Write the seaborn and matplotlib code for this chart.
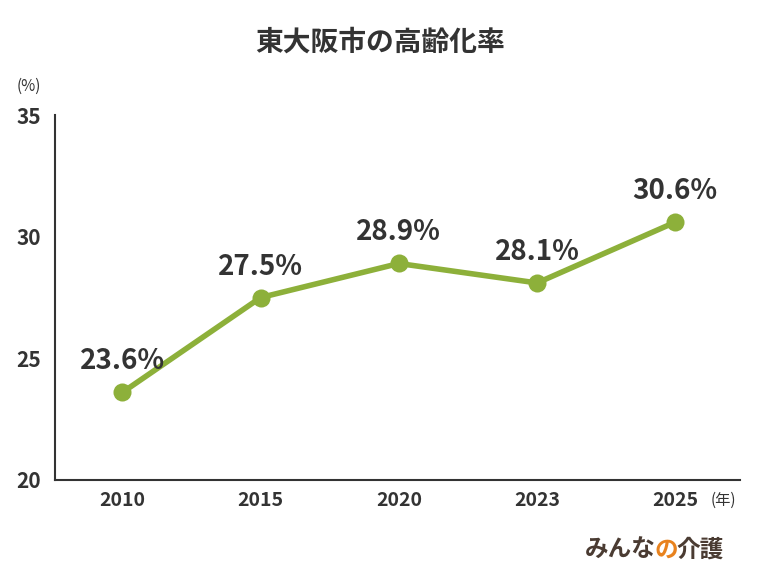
import matplotlib
matplotlib.use("Agg")
import matplotlib.pyplot as plt
import seaborn as sns
import pandas as pd

years = ["2010", "2015", "2020", "2023", "2025"]
rates = [23.6, 27.5, 28.9, 28.1, 30.6]
yticks = [20, 25, 30, 35]

sns.set_style("white")
plt.rcParams['font.family'] = ['Noto Sans CJK JP', 'DejaVu Sans']

df = pd.DataFrame({"year": years, "rate": rates})
fig = plt.figure(figsize=(7.6, 5.7), dpi=100)
ax = fig.add_axes([0.072, 0.158, 0.902, 0.64])
green = "#8DB03A"
sns.lineplot(data=df, x="year", y="rate", ax=ax, color=green, lw=4,
             marker="o", markersize=13, markeredgewidth=0, sort=False)
for i, v in enumerate(rates):
    ax.text(i, v + 0.7, f"{v}%", ha="center", va="bottom", fontsize=20,
            fontweight="bold", color="#333333")
ax.set_ylim(20, 35)
ax.set_xlim(-0.49, 4.47)
ax.set_yticks(yticks)
ax.tick_params(axis="x", length=0, labelsize=14, colors="#333333", pad=8)
ax.tick_params(axis="y", length=0, labelsize=15, colors="#333333", pad=10)
for l in ax.get_xticklabels() + ax.get_yticklabels():
    l.set_fontweight("bold")
ax.set_xlabel(""); ax.set_ylabel("")
for s in ["top", "right"]:
    ax.spines[s].set_visible(False)
for s in ["left", "bottom"]:
    ax.spines[s].set_color("#333333"); ax.spines[s].set_linewidth(1.5)
fig.text(0.5, 0.925, "東大阪市の高齢化率", ha="center", va="center", fontsize=20,
         fontweight="bold", color="#333333")
fig.text(0.022, 0.84, "(%)", fontsize=11, color="#333333")
fig.text(0.935, 0.123, "(年)", fontsize=11, color="#333333", va="center")
fig.text(0.77, 0.035, "みんな", fontsize=17, fontweight="bold", color="#4a3b32", va="center")
fig.text(0.861, 0.035, "の", fontsize=17, fontweight="bold", color="#E8821E", va="center")
fig.text(0.89, 0.035, "介護", fontsize=17, fontweight="bold", color="#4a3b32", va="center")
fig.savefig("out.png", dpi=100)
